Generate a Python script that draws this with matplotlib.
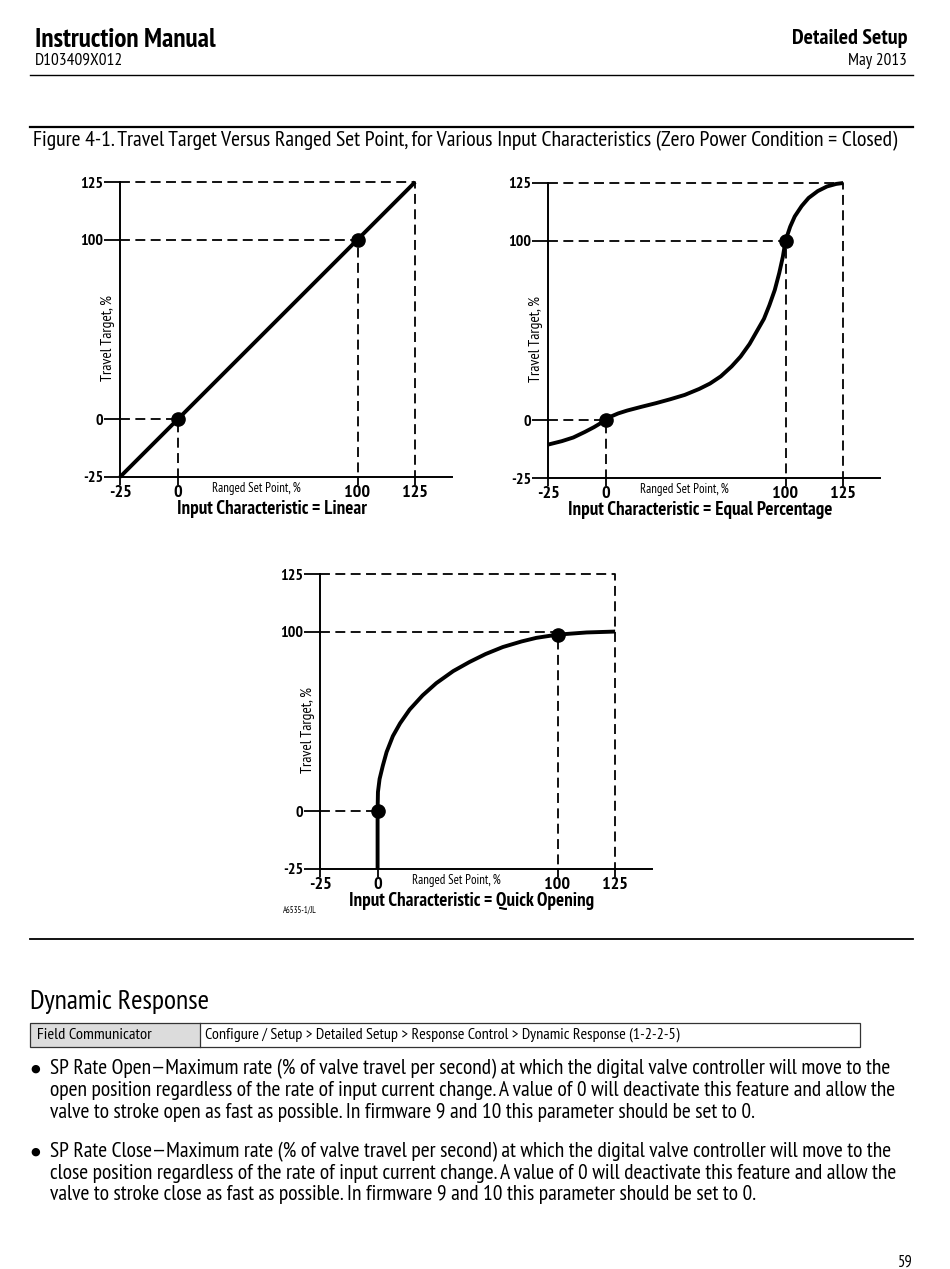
import numpy as np
import matplotlib
matplotlib.use('Agg')
import matplotlib.pyplot as plt
from matplotlib import font_manager
from matplotlib.lines import Line2D
from matplotlib.patches import Rectangle

# --- data ---
tick_vals = [-25, 0, 100, 125]
tick_labels = ['-25', '0', '100', '125']

lin_x = [-25, 125]
lin_y = [-25, 125]

eq_x = [-25, -19, -14, -9, -5, -2, 0, 3, 7, 12, 20, 28, 36, 44, 52, 58, 64, 70, 75, 80,
        84, 88, 91, 94, 96.5, 98.5, 100, 102, 104, 107, 110, 114, 118, 122, 125]
eq_y = [-10.5, -9, -7.4, -5, -2.9, -1.1, 0, 2.2, 3.9, 5.5, 7.6, 9.6, 11.8, 14.2, 17.5, 20.5,
        24.5, 30, 35.5, 42.5, 49.5, 56.5, 64, 72.5, 82, 91, 100, 106, 110.5, 115, 118.5,
        121.5, 123.5, 124.6, 125]

qo_x = [0, 0, 0.2, 1.1, 2.9, 5, 8.5, 12.5, 17.8, 25, 32.6, 42, 51.1, 60, 69.6, 80, 88.2,
        100, 112.6, 125]
qo_y = [-25, 0, 10.8, 18, 25.4, 33, 41.9, 49, 56.6, 64.5, 71.3, 78, 83.1, 87.5, 91.4,
        94.5, 96.5, 98.3, 99.5, 100]

lin_dots = ([0, 100], [0, 100])
eq_dots = ([0, 100], [0, 100])
qo_dots = ([0, 100], [0, 98.3])

titles = ['Input Characteristic = Linear',
          'Input Characteristic = Equal Percentage',
          'Input Characteristic = Quick Opening']

# --- font ---
names = {f.name for f in font_manager.fontManager.ttflist}
FONT = 'PT Sans Narrow' if 'PT Sans Narrow' in names else 'Liberation Sans'
plt.rcParams['font.family'] = [FONT, 'DejaVu Sans']

fig = plt.figure(figsize=(9.5, 12.69), dpi=100)
W, H = 950, 1269
renderer = fig.canvas.get_renderer()


def fx(x):
    return x / W


def fy(y):
    return 1 - y / H


def fit(t, width):
    # two passes, text width is not quite linear in size
    for _ in range(2):
        bb = t.get_window_extent(renderer)
        t.set_fontsize(t.get_fontsize() * width / bb.width)
    return t.get_fontsize()


def size_for(text, width, **kw):
    probe = fig.text(0, 0, text, fontsize=10, **kw)
    s = fit(probe, width)
    probe.remove()
    return s


# piecewise scale: the drawing squeezes 0..100 and stretches the end bands
K = 1.28


def fwd(v):
    v = np.asarray(v, float)
    return np.where(v < 0, v * K, np.where(v > 100, 100 + (v - 100) * K, v))


def inv(u):
    u = np.asarray(u, float)
    return np.where(u < 0, u / K, np.where(u > 100, 100 + (u - 100) / K, u))


title_size = size_for(titles[0], 189, fontweight='bold')
xlab_size = size_for('Ranged Set Point, %', 89)
ylab_size = size_for('Travel Target, %', 86)
xtick_size = size_for('100', 26, fontweight='bold')
ytick_size = size_for('125', 23, fontweight='bold')


def chart(left, top, xs, ys, dots, title, guide=100):
    ax = fig.add_axes([fx(left), fy(top + 295), 332 / W, 295 / H])
    ax.set_xscale('function', functions=(fwd, inv))
    ax.set_yscale('function', functions=(fwd, inv))
    ax.set_xlim(-25, 141)
    ax.set_ylim(-25, 125)
    for s in ['top', 'right']:
        ax.spines[s].set_visible(False)
    for s in ['left', 'bottom']:
        ax.spines[s].set_linewidth(1.4)
    ax.set_xticks(tick_vals)
    ax.set_xticklabels(tick_labels, fontweight='bold', fontsize=xtick_size)
    ax.set_yticks(tick_vals)
    ax.set_yticklabels(tick_labels, fontweight='bold', fontsize=ytick_size)
    ax.tick_params(axis='y', direction='out', length=11.5, width=1.3, pad=0.3)
    ax.tick_params(axis='x', direction='out', length=5.5, width=1.3, pad=0.5)
    ax.minorticks_off()

    dash = dict(color='black', lw=1.3, ls=(0, (5.5, 3)), clip_on=False, zorder=2)
    ax.plot([-25, 125, 125], [125, 125, -25], **dash)
    ax.plot([-25, 100, 100], [guide, guide, -25], **dash)
    ax.plot([-25, 0, 0], [0, 0, -25], **dash)

    ax.plot(xs, ys, color='black', lw=2.8, clip_on=False, zorder=3,
            solid_capstyle='butt', solid_joinstyle='round')
    ax.plot(dots[0], dots[1], 'o', color='black', ms=9.5, clip_on=False, zorder=4)

    ax.annotate('Ranged Set Point, %', xy=(44, -25), xytext=(0, -3.5),
                textcoords='offset points', ha='center', va='top', fontsize=xlab_size,
                annotation_clip=False)
    ax.annotate('Travel Target, %', xy=(-25, 45), xytext=(-9, 0),
                textcoords='offset points', ha='center', va='center', rotation=90,
                fontsize=ylab_size, annotation_clip=False)
    ax.text(152 / 332, -32 / 295, title, transform=ax.transAxes, ha='center',
            va='center', fontweight='bold', fontsize=title_size)
    return ax


chart(120, 182, lin_x, lin_y, lin_dots, titles[0])
chart(548, 183, eq_x, eq_y, eq_dots, titles[1])
chart(320, 574, qo_x, qo_y, qo_dots, titles[2])

t = fig.text(fx(283), fy(910), 'A6535-1/JL', fontsize=6, va='center')
fit(t, 34)


# --- page decorations ---
def hline(y, x0=30, x1=913, lw=1.0, color='black'):
    fig.add_artist(Line2D([fx(x0), fx(x1)], [fy(y), fy(y)], lw=lw, color=color))


t = fig.text(fx(35), fy(40), 'Instruction Manual', fontweight='bold', fontsize=16, va='center')
fit(t, 181)
t = fig.text(fx(35), fy(61), 'D103409X012', fontsize=10, va='center')
fit(t, 88)
t = fig.text(fx(907), fy(39), 'Detailed Setup', fontweight='bold', fontsize=13.5,
             va='center', ha='right')
fit(t, 116)
t = fig.text(fx(907), fy(61), 'May 2013', fontsize=10, va='center', ha='right')
fit(t, 59)
hline(75, lw=1.0)
hline(127, lw=1.6)
t = fig.text(fx(33), fy(141), 'Figure 4-1. Travel Target Versus Ranged Set Point, for Various '
             'Input Characteristics (Zero Power Condition = Closed)', fontsize=12, va='center')
fit(t, 864)
hline(939, lw=1.3)

t = fig.text(fx(30), fy(1002), 'Dynamic Response', fontsize=15, va='center')
fit(t, 178)

fig.add_artist(Rectangle((fx(30), fy(1047)), fx(170), 24 / H, facecolor='#dcdcdc',
                         edgecolor='none'))
fig.add_artist(Rectangle((fx(30), fy(1047)), fx(830), 24 / H, facecolor='none',
                         edgecolor='#333333', lw=0.9))
fig.add_artist(Line2D([fx(200), fx(200)], [fy(1023), fy(1047)], lw=0.9, color='#333333'))
t = fig.text(fx(37), fy(1035), 'Field Communicator', fontsize=9.5, va='center')
fit(t, 114)
t = fig.text(fx(205), fy(1035), 'Configure / Setup > Detailed Setup > Response Control > '
             'Dynamic Response (1-2-2-5)', fontsize=9.5, va='center')
fit(t, 478)

bullets = [
    ['SP Rate Open\u2014Maximum rate (% of valve travel per second) at which the digital valve controller will move to the',
     'open position regardless of the rate of input current change. A value of 0 will deactivate this feature and allow the',
     'valve to stroke open as fast as possible. In firmware 9 and 10 this parameter should be set to 0.'],
    ['SP Rate Close\u2014Maximum rate (% of valve travel per second) at which the digital valve controller will move to the',
     'close position regardless of the rate of input current change. A value of 0 will deactivate this feature and allow the',
     'valve to stroke close as fast as possible. In firmware 9 and 10 this parameter should be set to 0.'],
]
body_size = size_for(bullets[0][1], 843)
for y0, lines in zip([1069, 1152], bullets):
    fig.text(fx(35), fy(y0), '\u25cf', fontsize=8, va='center', ha='center',
             family='DejaVu Sans')
    for i, line in enumerate(lines):
        fig.text(fx(50), fy(y0 + i * 21.5), line, fontsize=body_size, va='center')

fig.text(fx(913), fy(1263), '59', fontsize=12, va='center', ha='right')

fig.savefig('out.png', dpi=100, facecolor='white')
